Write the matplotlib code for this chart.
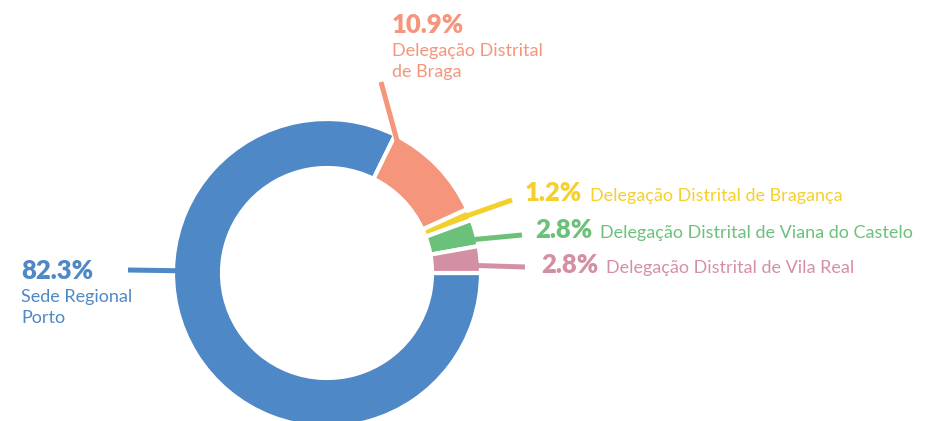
import numpy as np
import matplotlib
matplotlib.use('Agg')
import matplotlib.pyplot as plt

plt.rcParams['font.family'] = ['Lato', 'DejaVu Sans']

# values
regions = ['Sede Regional\nPorto',
           'Delegação Distrital\nde Braga',
           'Delegação Distrital de Bragança',
           'Delegação Distrital de Viana do Castelo',
           'Delegação Distrital de Vila Real']
shares = [82.3, 10.9, 1.2, 2.8, 2.8]
colors = ['#4f88c6', '#f4957c', '#f5cf2c', '#6bc17a', '#d490a3']

# label layout, in image pixels (x, baseline y), plus where each leader line ends
pct_pos = [(21, 279), (392, 33), (525, 201), (535, 238), (541, 273)]
desc_below = [True, True, False, False, False]
line_end = [(128, 270), (381, 82), (512, 200), (522, 235), (525, 267)]

W, H = 939, 421
cx, cy = 327, 273          # ring centre (pixels, y down)
r_out, ring = 154, 49

fig = plt.figure(figsize=(W / 100, H / 100), dpi=100)
ax = fig.add_axes([0, 0, 1, 1])

wedges, _ = ax.pie(shares, colors=colors, startangle=0, counterclock=False,
                   radius=r_out, center=(cx, H - cy),
                   wedgeprops=dict(width=ring, edgecolor='white', linewidth=3))
ax.set_xlim(0, W)
ax.set_ylim(0, H)
ax.axis('off')

# leader lines: leave each wedge from its outer edge, towards the label
for w, col, (ex, ey) in zip(wedges, colors, line_end):
    t1, t2 = w.theta1, w.theta2
    ang = np.degrees(np.arctan2(cy - ey, ex - cx))
    ang = t1 + ((ang - t1) % 360)
    m = min(3, (t2 - t1) / 2)
    ang = min(max(ang, t1 + m), t2 - m)
    r = r_out - 8
    sx = cx + r * np.cos(np.radians(ang))
    sy = H - cy + r * np.sin(np.radians(ang))
    ax.plot([sx, ex], [sy, H - ey], color=col, lw=3.6, solid_capstyle='butt')

# labels
fig.canvas.draw()
renderer = fig.canvas.get_renderer()
for share, name, col, (px, py), below in zip(shares, regions, colors, pct_pos, desc_below):
    t = ax.text(px, H - py, f'{share:.1f}%', color=col, fontsize=18.5,
                fontweight='heavy', va='baseline', ha='left')
    if below:
        for i, line in enumerate(name.split('\n')):
            ax.text(px, H - py - 23 - 21 * i, line, color=col, fontsize=13,
                    va='baseline', ha='left')
    else:
        x1 = t.get_window_extent(renderer).x1
        ax.text(x1 + 8, H - py, name, color=col, fontsize=13,
                va='baseline', ha='left')

fig.savefig('out.png', dpi=100)
